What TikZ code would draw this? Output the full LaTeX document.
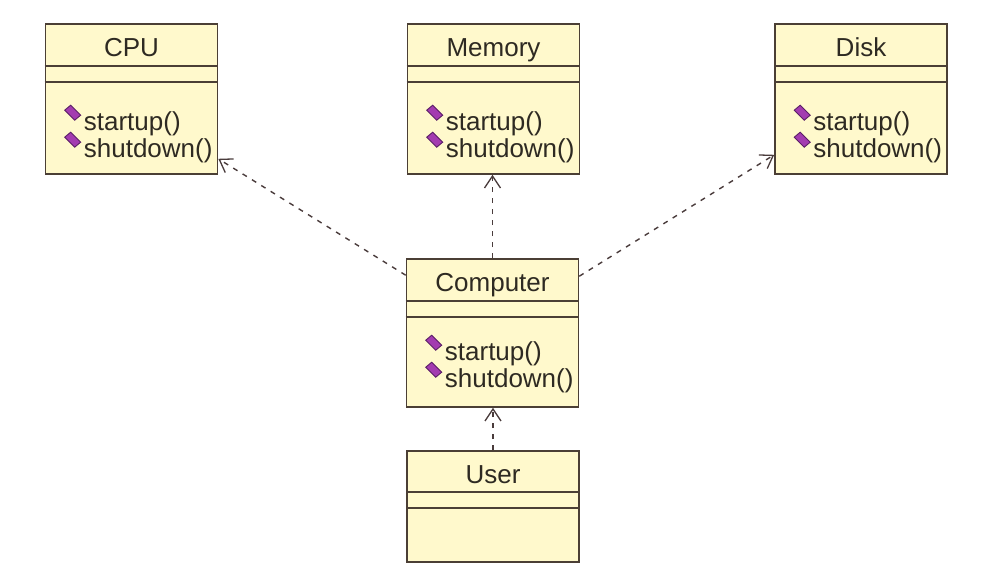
\documentclass[tikz,border=0pt]{standalone}
\usepackage{fontspec}
\setmainfont{Liberation Sans}
\usetikzlibrary{arrows.meta}
\definecolor{paper}{HTML}{FFF9CC}
\definecolor{edge}{HTML}{4B3F35}
\definecolor{ink}{HTML}{2E2A22}
\definecolor{wire}{HTML}{4A3C3C}
\definecolor{plum}{HTML}{A33BB0}
\definecolor{plumdark}{HTML}{5A1F66}
\newcommand\umlfont{\fontsize{26}{30}\selectfont}

\begin{document}
\begin{tikzpicture}[x=1pt,y=-1pt,every node/.style={font=\umlfont,text=ink},
  cls/.style={draw=edge,fill=paper,line width=1.6pt,minimum width=172pt,inner sep=0pt},
  sep/.style={draw=edge,line width=1.5pt},
  dep/.style={draw=wire,line width=1.4pt,dash pattern=on 5pt off 6pt,
    -{Straight Barb[length=12pt,width=16pt,line width=1.3pt]}},
  opmark/.style={fill=plum,draw=plumdark,line width=.9pt}]
\fill[white] (0,0) rectangle (992,573);
\useasboundingbox (0,0) rectangle (992,573);
% classes with operations
\foreach \n/\x/\y/\h/\o/\t in {cpu/131.5/99/150/107/CPU,mem/493.5/99/150/107/Memory,
    disk/861/99/150/107/Disk,comp/492.5/333/148/102/Computer}{
  \node[cls,minimum height=\h pt] (\n) at (\x,\y){};
  \node[anchor=base,inner sep=0pt] (\n-name) at ([yshift=-33pt]\n.north){\t};
  \draw[sep] ([yshift=-43pt]\n.north west)--([yshift=-43pt]\n.north east);
  \draw[sep] ([yshift=-59pt]\n.north west)--([yshift=-59pt]\n.north east);
  \node[anchor=base west,inner sep=0pt] (\n-up) at ([xshift=39pt,yshift=-\o pt]\n.north west){startup()};
  \node[anchor=base west,inner sep=0pt] (\n-down) at ([yshift=-27pt]\n-up.base west){shutdown()};
  \foreach \op in {up,down}{
    \filldraw[opmark] ([shift={(-11,-18)}]\n-\op.base west) +(-8,-2)--+(-2,-7)--+(8,3)--+(2,8)--cycle;}
}
% user
\node[cls,minimum height=111pt] (user) at (493,506.5){};
\node[anchor=base,inner sep=0pt] (user-name) at ([yshift=-33pt]user.north){User};
\draw[sep] ([yshift=-42pt]user.north west)--([yshift=-42pt]user.north east);
\draw[sep] ([yshift=-58pt]user.north west)--([yshift=-58pt]user.north east);
% dependencies
\draw[dep] ([yshift=-17pt]comp.north west)--([yshift=16pt]cpu.south east);
\draw[dep] (comp.north)--(comp.north |- mem.south);
\draw[dep] ([yshift=-18pt]comp.north east)--([yshift=20pt]disk.south west);
\draw[dep] (user.north)--(user.north |- comp.south);
\end{tikzpicture}
\end{document}
